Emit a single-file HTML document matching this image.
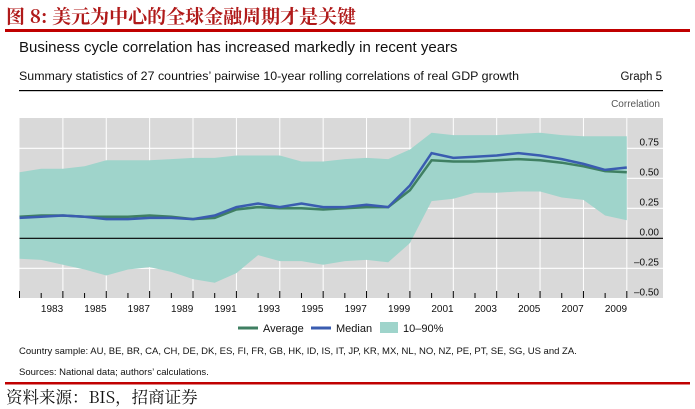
<!DOCTYPE html>
<html><head><meta charset="utf-8">
<style>
body{margin:0;background:#fff;width:695px;height:409px;overflow:hidden;font-family:"Liberation Sans","Noto Sans CJK SC",sans-serif;}
svg{position:absolute;left:0;top:0}
</style></head>
<body>
<svg width="695" height="409" xmlns="http://www.w3.org/2000/svg">
<text x="6" y="23" font-size="19" font-weight="bold" fill="#b01a1a" font-family="'Noto Serif CJK SC','Noto Sans CJK SC',serif">图 8:  美元为中心的全球金融周期才是关键</text>
<rect x="5" y="29" width="685" height="3" fill="#c00000"/>
<text x="19" y="52" font-size="15" fill="#111">Business cycle correlation has increased markedly in recent years</text>
<text x="19" y="80" font-size="12.4" fill="#111" textLength="500">Summary statistics of 27 countries’ pairwise 10-year rolling correlations of real GDP growth</text>
<text x="662" y="80" font-size="11.5" fill="#111" text-anchor="end">Graph 5</text>
<rect x="19" y="90" width="644" height="1.2" fill="#000"/>
<text x="660" y="107" font-size="10" fill="#555" text-anchor="end">Correlation</text>
<rect x="19.5" y="118" width="643.5" height="180" fill="#d9d9d9"/>
<g id="grid"></g>
<path id="band" fill="#9fd4cb"/>
<line id="zero" stroke="#000" stroke-width="1.2"/>
<path id="avg" fill="none" stroke="#3f7f62" stroke-width="2.5"/>
<path id="med" fill="none" stroke="#3a5cb0" stroke-width="2.5"/>
<g id="ticks"></g>
<g id="ylab"></g>
<g id="xlab"></g>
<g>
<line x1="238" y1="328" x2="258" y2="328" stroke="#3f7f62" stroke-width="3"/>
<text x="263" y="332" font-size="11" fill="#111">Average</text>
<line x1="311" y1="328" x2="331" y2="328" stroke="#3a5cb0" stroke-width="3"/>
<text x="336" y="332" font-size="11" fill="#111">Median</text>
<rect x="380" y="322" width="18" height="11" fill="#9fd4cb"/>
<text x="403" y="332" font-size="11" fill="#111">10–90%</text>
</g>
<text x="19" y="354" font-size="9.5" fill="#111">Country sample: AU, BE, BR, CA, CH, DE, DK, ES, FI, FR, GB, HK, ID, IS, IT, JP, KR, MX, NL, NO, NZ, PE, PT, SE, SG, US and ZA.</text>
<text x="19" y="375" font-size="9.5" fill="#111">Sources: National data; authors’ calculations.</text>
<rect x="5" y="382" width="685" height="2.5" fill="#c00000"/>
<text x="6" y="403" font-size="16.5" fill="#111" font-family="'Noto Serif CJK SC','Noto Sans CJK SC',serif">资料来源：BIS，招商证券</text>
</svg>
<script>
const startYear = 1982;
const upper = [.55,.58,.58,.60,.65,.65,.65,.66,.67,.67,.69,.69,.69,.64,.64,.66,.67,.66,.74,.88,.86,.86,.86,.87,.88,.86,.85,.85,.85];
const lower = [-.17,-.18,-.22,-.26,-.31,-.26,-.24,-.28,-.34,-.37,-.29,-.14,-.19,-.19,-.22,-.19,-.18,-.20,-.04,.31,.33,.38,.38,.39,.39,.34,.32,.19,.15];
const average = [.18,.19,.19,.18,.18,.18,.19,.18,.16,.17,.24,.26,.25,.25,.24,.25,.26,.26,.40,.65,.64,.64,.65,.66,.65,.63,.60,.56,.55];
const median = [.17,.18,.19,.18,.16,.16,.17,.17,.16,.19,.26,.29,.26,.29,.26,.26,.28,.26,.44,.71,.67,.68,.69,.71,.69,.66,.62,.57,.59];
const yTicks = [0.75,0.5,0.25,0,-0.25,-0.5];
const yTickLabels = ["0.75","0.50","0.25","0.00","–0.25","–0.50"];
const xLabels = [1983,1985,1987,1989,1991,1993,1995,1997,1999,2001,2003,2005,2007,2009];

const NS="http://www.w3.org/2000/svg";
const X0=19.5, YW=21.69, Y0=238.3, YS=120;
function xs(t){return X0+(t-startYear)*YW;}
function ys(v){return Y0-v*YS;}
function pts(arr){return arr.map((v,i)=>xs(startYear+i).toFixed(1)+","+ys(v).toFixed(1));}
function mk(tag,attrs,parent){const e=document.createElementNS(NS,tag);for(const k in attrs)e.setAttribute(k,attrs[k]);parent.appendChild(e);return e;}

document.getElementById('band').setAttribute('d',"M"+pts(upper).join("L")+"L"+pts(lower).reverse().join("L")+"Z");
document.getElementById('avg').setAttribute('d',"M"+pts(average).join("L"));
document.getElementById('med').setAttribute('d',"M"+pts(median).join("L"));
const z=document.getElementById('zero');
z.setAttribute('x1',X0);z.setAttribute('x2',663);z.setAttribute('y1',ys(0));z.setAttribute('y2',ys(0));

const grid=document.getElementById('grid');
yTicks.forEach(v=>{ if(v===0||v===-0.5) return;
  const l=mk('line',{x1:X0,x2:663,y1:ys(v),y2:ys(v),stroke:'#fff','stroke-width':1.2},grid);
  
  
});
for(let y=startYear+2;y<=2010;y+=2){
  const l=mk('line',{x1:xs(y),x2:xs(y),y1:118,y2:298,stroke:'#fff','stroke-width':1},grid);
  
  
}
const ticks=document.getElementById('ticks');
for(let y=startYear;y<=2010;y++){
  const l=mk('line',{x1:xs(y),x2:xs(y),y1:(y%2===0?291:293),y2:298,stroke:'#000','stroke-width':1},ticks);
  
  
}
const ylab=document.getElementById('ylab');
yTicks.forEach((v,i)=>{
  const t=mk('text',{x:659,y:ys(v)-3,'font-size':10,'text-anchor':'end',fill:'#111'},ylab);
  t.textContent=yTickLabels[i];
  
  
});
const xlab=document.getElementById('xlab');
xLabels.forEach(y=>{
  const t=mk('text',{x:xs(y+0.5),y:312,'font-size':10,'text-anchor':'middle',fill:'#111'},xlab);
  t.textContent=y;
  
  
});
</script>
</body></html>
